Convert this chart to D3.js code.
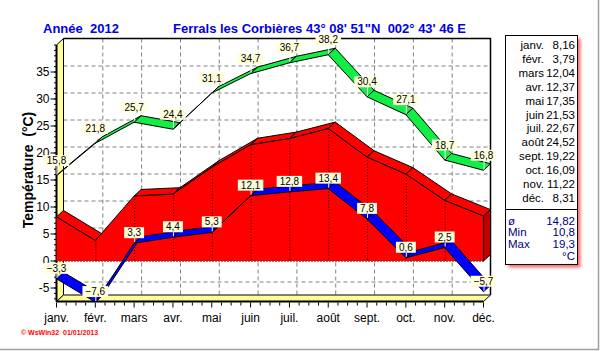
<!DOCTYPE html>
<html>
<head>
<meta charset="utf-8">
<script src="https://cdn.jsdelivr.net/npm/d3@7"></script>
<style>
  body { margin: 0; background: #fff; }
  svg { display: block; font-family: 'Liberation Sans', Arial, sans-serif; }
  svg text { white-space: pre; }
</style>
</head>
<body>
<svg id="chart"></svg>
<script>
// Data
const months = ['janv.', 'févr.', 'mars', 'avr.', 'mai', 'juin', 'juil.', 'août', 'sept.', 'oct.', 'nov.', 'déc.'];
const tMax = [15.8, 21.8, 25.7, 24.4, 31.1, 34.7, 36.7, 38.2, 30.4, 27.1, 18.7, 16.8];
const tMin = [-3.3, -7.6, 3.3, 4.4, 5.3, 12.1, 12.8, 13.4, 7.8, 0.6, 2.5, -5.7];
const tMean = [8.16, 3.79, 12.04, 12.37, 17.35, 21.53, 22.67, 24.52, 19.22, 16.09, 11.22, 8.31];
const yTicks = [-5, 0, 5, 10, 15, 20, 25, 30, 35];
const statLabels = ['ø', 'Min', 'Max'];
const statValues = [14.82, 10.8, 19.3];

const width = 603, height = 351;
const depth = [7, -6.5]; // 3D offset of the back plane

const fr = d3.formatLocale({decimal: ',', thousands: ' ', grouping: [3], currency: ['', ' €']});
const f1 = fr.format('.1f');
const f2 = fr.format('.2f');

const x = d3.scalePoint(months, [56.5, 483.5]);
const y = d3.scaleLinear([-7.5, 40], [301.5, 45]);
const [yLo, yHi] = y.domain();
const x0 = x(months[0]), x1 = x(months[months.length - 1]);
const bx = v => v + depth[0];
const by = v => v + depth[1];

const svg = d3.select('#chart')
  .attr('width', width)
  .attr('height', height)
  .attr('viewBox', [0, 0, width, height]);

const defs = svg.append('defs');
defs.append('filter').attr('id', 'blur')
  .append('feGaussianBlur').attr('stdDeviation', 1.6);
defs.append('clipPath').attr('id', 'clip')
  .append('rect').attr('x', 0).attr('y', 0).attr('width', width).attr('height', y(yLo) + 0.5);

// Back wall + grid
svg.append('rect')
  .attr('x', bx(x0)).attr('y', by(y(yHi)))
  .attr('width', x1 - x0).attr('height', y(yLo) - y(yHi))
  .attr('fill', '#fff');

const grid = svg.append('g')
  .attr('stroke', '#808080')
  .attr('stroke-dasharray', '4,3');
grid.selectAll('line.h')
  .data(yTicks)
  .join('line')
  .attr('x1', bx(x0)).attr('x2', bx(x1))
  .attr('y1', d => by(y(d)) + 0.5).attr('y2', d => by(y(d)) + 0.5);
grid.selectAll('line.v')
  .data(months.slice(1, -1))
  .join('line')
  .attr('x1', d => bx(x(d)) + 0.5).attr('x2', d => bx(x(d)) + 0.5)
  .attr('y1', by(y(yHi))).attr('y2', by(y(yLo)));

// Walls
const poly = pts => 'M' + pts.map(p => p.join(',')).join('L') + 'Z';

svg.append('path')
  .attr('d', poly([[x0, y(yHi)], [bx(x0), by(y(yHi))], [bx(x0), by(y(yLo))], [x0, y(yLo)]]))
  .attr('fill', '#ffff99').attr('stroke', '#000');
svg.append('path')
  .attr('d', poly([[x0, y(yLo)], [bx(x0), by(y(yLo))], [bx(x1), by(y(yLo))], [x1, y(yLo)]]))
  .attr('fill', '#ffff99').attr('stroke', '#000');
svg.append('path')
  .attr('d', `M${bx(x0)},${by(y(yHi))}H${bx(x1)}V${by(y(yLo))}`)
  .attr('fill', 'none').attr('stroke', '#000').attr('stroke-width', 1.5);
svg.append('line')
  .attr('x1', x0).attr('x2', x0).attr('y1', y(yHi)).attr('y2', y(yLo))
  .attr('stroke', '#000').attr('stroke-width', 2);
svg.append('line')
  .attr('x1', x0).attr('x2', x1).attr('y1', y(yLo)).attr('y2', y(yLo))
  .attr('stroke', '#000').attr('stroke-width', 2);

// Axes
const yAxis = svg.append('g');
yAxis.selectAll('line.minor')
  .data(d3.range(-7, 41))
  .join('line')
  .attr('x1', x0 - 2.5).attr('x2', x0)
  .attr('y1', d => y(d)).attr('y2', d => y(d))
  .attr('stroke', '#000');
yAxis.selectAll('line.major')
  .data(yTicks)
  .join('line')
  .attr('x1', x0 - 6).attr('x2', x0)
  .attr('y1', d => y(d)).attr('y2', d => y(d))
  .attr('stroke', '#000');
yAxis.selectAll('text')
  .data(yTicks)
  .join('text')
  .attr('x', x0 - 7).attr('y', d => y(d))
  .attr('dy', '0.35em')
  .attr('text-anchor', 'end')
  .attr('font-size', 12)
  .text(d => d);

const step = x.step();
const xAxis = svg.append('g').attr('transform', `translate(0,${y(yLo) + 1})`);
xAxis.selectAll('line.minor')
  .data(d3.range(0, months.length - 1).flatMap(i => [1, 2, 3].map(k => x0 + (i + k / 4) * step)))
  .join('line')
  .attr('x1', d => d).attr('x2', d => d)
  .attr('y1', 0).attr('y2', 3)
  .attr('stroke', '#000');
xAxis.selectAll('line.major')
  .data(months)
  .join('line')
  .attr('x1', d => x(d)).attr('x2', d => x(d))
  .attr('y1', 0).attr('y2', 5)
  .attr('stroke', '#000');
xAxis.selectAll('text')
  .data(months)
  .join('text')
  .attr('x', d => x(d)).attr('y', 15)
  .attr('dy', '0.35em')
  .attr('text-anchor', 'middle')
  .attr('font-size', 12)
  .text(d => d);

// Mean temperature: 3D area
const series = svg.append('g').attr('clip-path', 'url(#clip)');
const P = months.map((m, i) => [x(m), y(tMean[i])]);
const segs = d3.pairs(P);

series.append('g')
  .selectAll('path')
  .data(segs.filter(([a, b]) => (b[0] - a[0]) * depth[1] - (b[1] - a[1]) * depth[0] < 0))
  .join('path')
  .attr('d', ([a, b]) => poly([a, b, [bx(b[0]), by(b[1])], [bx(a[0]), by(a[1])]]))
  .attr('fill', '#ff0000').attr('stroke', '#000').attr('stroke-linejoin', 'round');

series.append('path')
  .attr('d', d3.area().x(d => d[0]).y0(y(0)).y1(d => d[1])(P))
  .attr('fill', '#ff0000');
series.append('path')
  .attr('d', poly([P[P.length - 1], [bx(x1), by(P[P.length - 1][1])], [bx(x1), by(y(0))], [x1, y(0)]]))
  .attr('fill', '#c00000').attr('stroke', '#000');
series.append('path')
  .attr('d', d3.line()(P))
  .attr('fill', 'none').attr('stroke', '#000');
series.append('g')
  .attr('stroke', '#000').attr('stroke-dasharray', '1,2')
  .selectAll('line')
  .data(P.slice(1, -1))
  .join('line')
  .attr('x1', d => d[0] + 0.5).attr('x2', d => d[0] + 0.5)
  .attr('y1', d => d[1]).attr('y2', y(0));
series.append('line')
  .attr('x1', x0).attr('x2', x1).attr('y1', y(0) + 0.5).attr('y2', y(0) + 0.5)
  .attr('stroke', '#000').attr('stroke-dasharray', '1,2');

// Max / Min: 3D ribbons
const ribbon = (values, color) => {
  const pts = months.map((m, i) => [x(m), y(values[i])]);
  series.append('g')
    .selectAll('path')
    .data(d3.pairs(pts))
    .join('path')
    .attr('d', ([a, b]) => poly([a, b, [bx(b[0]), by(b[1])], [bx(a[0]), by(a[1])]]))
    .attr('fill', color).attr('stroke', '#000').attr('stroke-linejoin', 'round');
};
ribbon(tMax, '#11ee44');
ribbon(tMin, '#0000ff');

// Point labels
const marks = (values, gap) => {
  const g = svg.append('g').selectAll('g')
    .data(values)
    .join('g')
    .attr('transform', (d, i) => `translate(${x(months[i])},${y(d)})`);
  g.append('line')
    .attr('x1', 0.5).attr('x2', 0.5).attr('y1', -1).attr('y2', -gap)
    .attr('stroke', '#fff');
  g.append('rect').attr('fill', '#ffffdd');
  g.append('text')
    .attr('y', -gap - 5.5).attr('dy', '0.35em')
    .attr('text-anchor', 'middle')
    .attr('font-size', 10)
    .text(d => f1(d))
    .each(function() {
      const w = this.getComputedTextLength() + 6;
      d3.select(this.previousSibling)
        .attr('x', -w / 2).attr('y', -gap - 11).attr('width', w).attr('height', 11);
    });
};
marks(tMax, 9.5);
marks(tMin, 5);

// Titles
svg.append('text')
  .attr('x', 43).attr('y', 32.5)
  .attr('font-size', 13).attr('font-weight', 'bold').attr('fill', '#0000ee')
  .text('Année  2012');
svg.append('text')
  .attr('x', 173).attr('y', 32.5)
  .attr('font-size', 13).attr('font-weight', 'bold').attr('fill', '#0000ee')
  .text('Ferrals les Corbières 43° 08\' 51"N  002° 43\' 46 E');
svg.append('text')
  .attr('transform', 'translate(33,170) rotate(-90)')
  .attr('text-anchor', 'middle')
  .attr('font-size', 14).attr('font-weight', 'bold')
  .text('Température  (°C)');

// Side table
const panel = svg.append('g');
panel.append('rect')
  .attr('x', 508.5).attr('y', 38.5).attr('width', 72).attr('height', 229)
  .attr('fill', '#ff6a6a').attr('filter', 'url(#blur)');
panel.append('rect')
  .attr('x', 505.5).attr('y', 35.5).attr('width', 72).attr('height', 229)
  .attr('fill', '#fff').attr('stroke', '#000');
panel.append('line')
  .attr('x1', 505.5).attr('x2', 577.5).attr('y1', 209.5).attr('y2', 209.5)
  .attr('stroke', '#000');
const rows = panel.append('g').attr('font-size', 11.5)
  .selectAll('g')
  .data(months)
  .join('g')
  .attr('transform', (d, i) => `translate(0,${45 + i * 13.9})`);
rows.append('text')
  .attr('x', 544).attr('dy', '0.35em').attr('text-anchor', 'end')
  .text(d => d);
rows.append('text')
  .attr('x', 575).attr('dy', '0.35em').attr('text-anchor', 'end')
  .text((d, i) => f2(tMean[i]));
const srows = panel.append('g').attr('font-size', 11.5).attr('fill', '#000080')
  .selectAll('g')
  .data(statLabels)
  .join('g')
  .attr('transform', (d, i) => `translate(0,${220.7 + i * 11.7})`);
srows.append('text')
  .attr('x', 508).attr('dy', '0.35em')
  .text(d => d);
srows.append('text')
  .attr('x', 575).attr('dy', '0.35em').attr('text-anchor', 'end')
  .text((d, i) => i ? f1(statValues[i]) : f2(statValues[i]));
panel.append('text')
  .attr('x', 575).attr('y', 256).attr('dy', '0.35em').attr('text-anchor', 'end')
  .attr('font-size', 11.5).attr('fill', '#000080')
  .text('°C');

// Footer and frame
svg.append('text')
  .attr('x', 21).attr('y', 334.5)
  .attr('font-size', 7).attr('font-weight', 'bold').attr('fill', '#ff0000')
  .text('© WsWin32  01/01/2013');
svg.append('path')
  .attr('d', `M598.5,0V349.5H0`)
  .attr('fill', 'none').attr('stroke', '#a0a0a0').attr('stroke-width', 1.5);
</script>
</body>
</html>
